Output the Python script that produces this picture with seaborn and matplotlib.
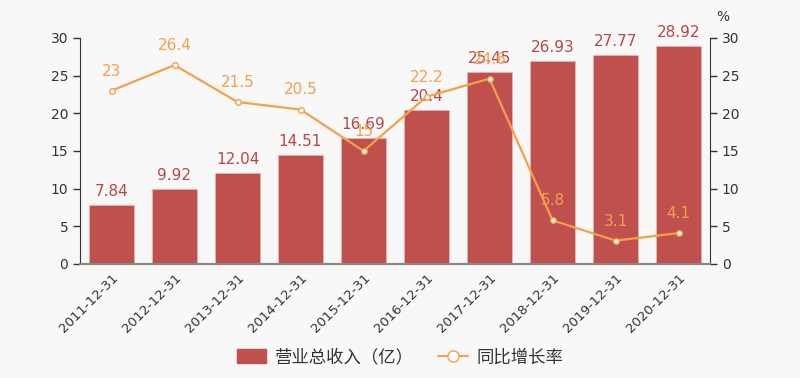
import numpy as np
import pandas as pd
import seaborn as sns
import matplotlib.pyplot as plt
from matplotlib.lines import Line2D
from matplotlib.patches import Patch

# dados do gráfico
datas = ["2011-12-31", "2012-12-31", "2013-12-31", "2014-12-31", "2015-12-31",
         "2016-12-31", "2017-12-31", "2018-12-31", "2019-12-31", "2020-12-31"]
receita = [7.84, 9.92, 12.04, 14.51, 16.69, 20.4, 25.45, 26.93, 27.77, 28.92]
crescimento = [23, 26.4, 21.5, 20.5, 15, 22.2, 24.6, 5.8, 3.1, 4.1]

cor_barra = "#c0504d"
cor_linha = "#f5a04a"
cor_txt_barra = "#b5474b"

sns.set_style("white")
plt.rcParams["font.family"] = ["Noto Sans CJK SC", "DejaVu Sans"]

df = pd.DataFrame({"data": datas, "receita": receita, "crescimento": crescimento})

fig = plt.figure(figsize=(8, 3.78), dpi=100, facecolor="#f8f8f8")
ax = fig.add_axes([0.1, 0.3016, 0.7875, 0.598])
ax.set_facecolor("#f8f8f8")

sns.barplot(data=df, x="data", y="receita", color=cor_barra, saturation=1,
            width=0.71, ax=ax, edgecolor="#e8b5b3", linewidth=0.6)
ax.set_ylim(0, 30)
ax.set_yticks(range(0, 31, 5))
ax.set_xlim(-0.5, 9.5)
ax.set_xlabel("")
ax.set_ylabel("")
for i, v in enumerate(receita):
    ax.text(i, v + 0.8, f"{v:g}", ha="center", va="bottom", color=cor_txt_barra, fontsize=11,
            family="DejaVu Sans")

ax2 = ax.twinx()
sns.lineplot(x=np.arange(len(datas)), y=crescimento, ax=ax2, color=cor_linha, linewidth=1.6,
             marker="o", markersize=4, markerfacecolor="white", markeredgecolor=cor_linha,
             markeredgewidth=1)
ax2.set_ylim(0, 30)
ax2.set_yticks(range(0, 31, 5))
ax2.set_xlim(-0.5, 9.5)
for i, v in enumerate(crescimento):
    ax2.text(i, v + 1.6, f"{v:g}", ha="center", va="bottom", color=cor_linha, fontsize=11,
             family="DejaVu Sans")
ax2.text(1.02, 1.06, "%", transform=ax2.transAxes, ha="center", va="bottom", fontsize=10, color="#333333",
         family="DejaVu Sans")

# eixos
ticks = np.arange(-0.5, 10, 1)
ax.set_xticks(ticks, minor=False)
ax.set_xticklabels([""] * len(ticks))
ax.set_xticks(np.arange(10), minor=True)
ax.set_xticklabels(datas, minor=True, rotation=45, ha="right", rotation_mode="anchor",
                   fontsize=9.5, color="#333333", family="DejaVu Sans")
ax.tick_params(axis="x", which="minor", length=0, pad=5)
ax.tick_params(axis="x", which="major", length=5, width=1, color="#333333")
for a in (ax, ax2):
    a.tick_params(axis="y", length=5, width=1, color="#333333", labelsize=10, labelcolor="#333333")
    for s in ("top",):
        a.spines[s].set_visible(False)
    a.spines["left"].set_color("#333333")
    a.spines["right"].set_color("#333333")
    a.spines["bottom"].set_color("#888888")
    a.spines["bottom"].set_linewidth(1.5)
ax.spines["right"].set_visible(False)
ax2.spines["left"].set_visible(False)
for lbl in ax.get_yticklabels() + ax2.get_yticklabels():
    lbl.set_family("DejaVu Sans")

handles = [Patch(facecolor=cor_barra, edgecolor=cor_barra, label="营业总收入（亿）"),
           Line2D([0], [0], color=cor_linha, marker="o", markerfacecolor="white",
                  markersize=8, label="同比增长率")]
fig.legend(handles=handles, loc="lower center", bbox_to_anchor=(0.5, -0.01), ncol=2, frameon=False,
           fontsize=12.5, handlelength=1.7, handleheight=0.9, handletextpad=0.5,
           columnspacing=1.4, labelcolor="#333333")

fig.savefig("out.png", dpi=100, facecolor=fig.get_facecolor())
